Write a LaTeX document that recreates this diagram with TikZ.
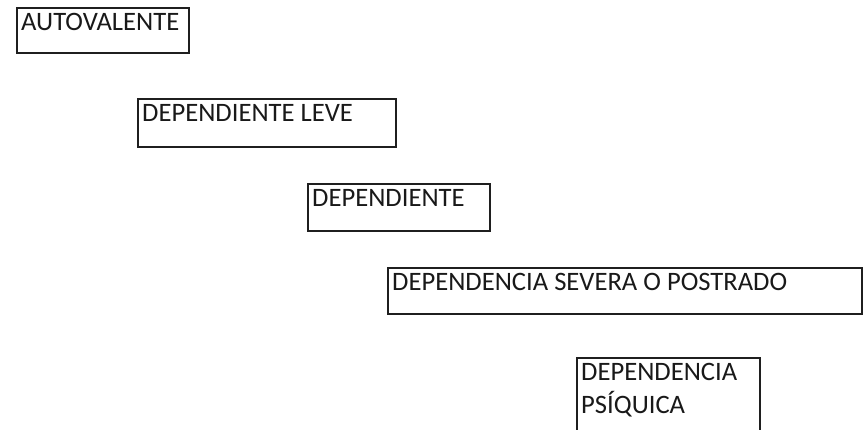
\documentclass[tikz,border=0pt]{standalone}
\usepackage{fontspec}
\setmainfont{Carlito}
\begin{document}
\begin{tikzpicture}[x=1pt,y=-1pt,
  boxframe/.style={draw=black!88, line width=1.7pt, inner sep=0pt, outer sep=0pt, anchor=north west},
  boxtext/.style={inner sep=0pt, anchor=base west, text=black!90, font=\fontsize{26.6}{33}\selectfont, align=left}]
\clip (0,0) rectangle (867,429);
\node[boxframe, minimum width=172pt, minimum height=45pt] (b1) at (17,8) {};
\node[boxtext] (t1) at ([xshift=4pt,yshift=-22pt]b1.north west) {AUTOVALENTE};
\node[boxframe, minimum width=258pt, minimum height=48pt] (b2) at (138,99) {};
\node[boxtext] (t2) at ([xshift=4pt,yshift=-22pt]b2.north west) {DEPENDIENTE LEVE};
\node[boxframe, minimum width=182pt, minimum height=47pt] (b3) at (308,184) {};
\node[boxtext] (t3) at ([xshift=4pt,yshift=-22pt]b3.north west) {DEPENDIENTE};
\node[boxframe, minimum width=474pt, minimum height=46pt] (b4) at (388,268) {};
\node[boxtext] (t4) at ([xshift=4pt,yshift=-22pt]b4.north west) {DEPENDENCIA SEVERA O POSTRADO};
\node[boxframe, minimum width=183pt, minimum height=90pt] (b5) at (577,358) {};
\node[boxtext] (t5) at ([xshift=4pt,yshift=-55pt]b5.north west) {DEPENDENCIA\\PSÍQUICA};
\end{tikzpicture}
\end{document}
